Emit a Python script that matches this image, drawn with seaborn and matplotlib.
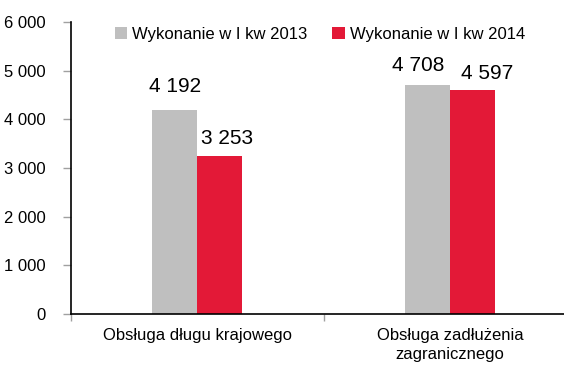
import matplotlib
matplotlib.use("Agg")
import matplotlib.pyplot as plt
import seaborn as sns
import pandas as pd
from matplotlib.patches import Patch
from matplotlib.ticker import FuncFormatter

categories = ["Obsługa długu krajowego", "Obsługa zadłużenia\nzagranicznego"]
series_names = ["Wykonanie w I kw 2013", "Wykonanie w I kw 2014"]
values_2013 = [4192, 4708]
values_2014 = [3253, 4597]
colors = ["#BFBFBF", "#E31937"]

df = pd.DataFrame({
    "kategoria": categories * 2,
    "seria": [series_names[0]] * 2 + [series_names[1]] * 2,
    "wartosc": values_2013 + values_2014,
})

sns.set_style("white")
plt.rcParams["font.family"] = ["Liberation Sans", "DejaVu Sans"]
plt.rcParams["text.color"] = "black"
plt.rcParams["xtick.labelcolor"] = "black"
plt.rcParams["ytick.labelcolor"] = "black"

fig = plt.figure(figsize=(5.64, 3.68), dpi=100)
ax = fig.add_axes([71 / 564, 54 / 368, 1 - 71 / 564, 292 / 368])

sns.barplot(data=df, x="kategoria", y="wartosc", hue="seria", order=categories,
            hue_order=series_names, palette=colors, width=0.356, gap=0,
            saturation=1, edgecolor="none", linewidth=0, ax=ax, legend=False)

ax.set_ylim(0, 6000)
ax.set_xlim(-0.5, 1.45)
ax.set_yticks(range(0, 6001, 1000))
fmt = lambda v, p: f"{int(round(v)):,}".replace(",", " ")
ax.yaxis.set_major_formatter(FuncFormatter(fmt))
ax.tick_params(axis="y", labelsize=12, length=6, width=1, color="#A0A0A0",
               labelcolor="black", left=True, direction="out", pad=12)
ax.set_xticks([0, 1])
ax.set_xticklabels(categories, fontsize=12, linespacing=1.35)
ax.set_xticks([-0.5, 0.5], minor=True)
ax.tick_params(axis="x", which="major", length=0, pad=10, labelcolor="black")
ax.tick_params(axis="x", which="minor", length=5, width=1, color="#A0A0A0",
               bottom=True, direction="out")
ax.set_xlabel("")
ax.set_ylabel("")

for side in ["top", "right"]:
    ax.spines[side].set_visible(False)
for side in ["left", "bottom"]:
    ax.spines[side].set_color("black")
    ax.spines[side].set_linewidth(1.2)

# value labels nudged sideways so neighbouring labels don't collide
label_offsets = [[(0, 23), (-10, 19)], [(7, 17), (14, 17)]]
for container, offsets in zip(ax.containers, label_offsets):
    for bar, (dx, dy) in zip(container, offsets):
        h = bar.get_height()
        ax.annotate(fmt(h, None), (bar.get_x() + bar.get_width() / 2, h),
                    xytext=(dx, dy), textcoords="offset pixels",
                    ha="center", va="center", fontsize=15, color="black")

handles = [Patch(facecolor=c, edgecolor="none") for c in colors]
leg = ax.legend(handles, series_names, loc="upper center", bbox_to_anchor=(0.505, 1.035),
                ncol=2, frameon=False, fontsize=12, handlelength=0.75, handleheight=0.75,
                handletextpad=0.3, columnspacing=1.5)
for t in leg.get_texts():
    t.set_color("black")

fig.savefig("out.png", dpi=100)
